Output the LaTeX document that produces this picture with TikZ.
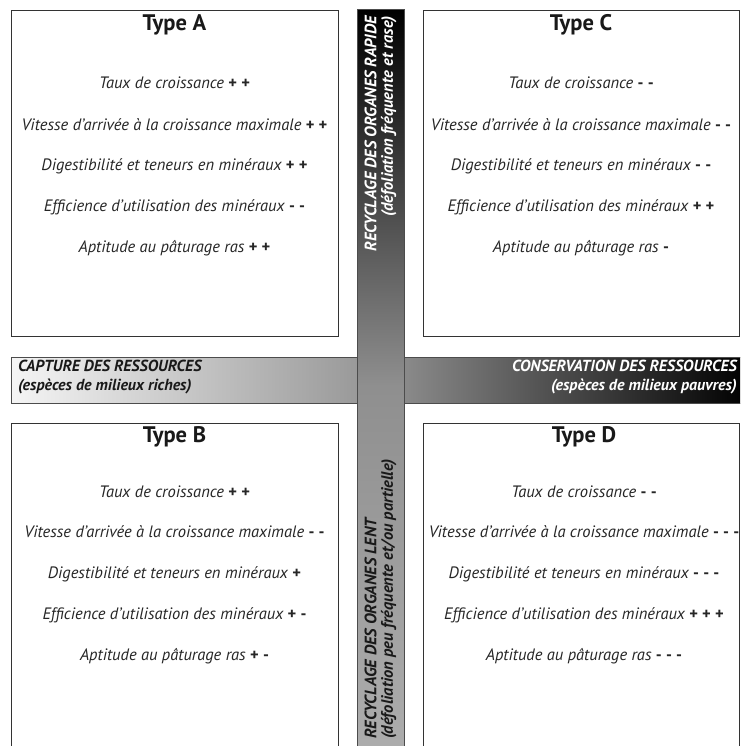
\documentclass[tikz,border=0pt]{standalone}
\usepackage{fontspec}
\setmainfont{PT Sans}
\usetikzlibrary{positioning}

\tikzset{
  typebox/.style={draw=black!80, line width=1.3pt, fill=white, anchor=north west, inner sep=0pt},
  title/.style={text=black!90, font=\bfseries\fontsize{22.5}{26}\selectfont, inner sep=0pt},
  item/.style={text=black!85, font=\itshape\fontsize{16.5}{19}\selectfont, inner sep=0pt},
  hbar/.style={draw=black!70, line width=1.3pt, anchor=north west, inner sep=0pt,
    left color=black!4, right color=black, middle color=black!42},
  vbar/.style={draw=black!70, line width=1.3pt, anchor=north west, inner sep=0pt,
    top color=black, bottom color=black!32, middle color=black!44},
  barlabel/.style={font=\bfseries\itshape\fontsize{16}{19}\selectfont, inner sep=0pt},
  vlabel/.style={font=\bfseries\itshape\fontsize{16.5}{16.5}\selectfont, inner sep=0pt, rotate=90},
}

\begin{document}
\begin{tikzpicture}[x=1pt,y=-1pt]
\useasboundingbox (0,0) rectangle (740,746);
\clip (0,0) rectangle (740,746);
% the four boxes
\node[typebox, minimum width=327pt, minimum height=326pt] (boxA) at (11,10) {};
\node[typebox, minimum width=316pt, minimum height=326pt] (boxC) at (423,10) {};
\node[typebox, minimum width=327pt, minimum height=340pt] (boxB) at (11,423) {};
\node[typebox, minimum width=316pt, minimum height=340pt] (boxD) at (423,423) {};
% the two axes
\node[hbar, minimum width=736pt, minimum height=46pt] (ressources) at (11,357) {};
\node[vbar, minimum width=47pt, minimum height=752pt] (recyclage) at (357,9) {};
\node[barlabel, text=black!90, anchor=west, align=left] (capture) at (18,377)
  {CAPTURE DES RESSOURCES\\(espèces de milieux riches)};
\node[barlabel, text=white, anchor=east, align=right] (conservation) at (737,377)
  {CONSERVATION DES RESSOURCES\\(espèces de milieux pauvres)};
\node[vlabel, text=white, anchor=east, align=right] (rapide) at (380.5,16)
  {RECYCLAGE DES ORGANES RAPIDE\\(défoliation fréquente et rase)};
\node[vlabel, text=black!90, anchor=west, align=left] (lent) at (380.5,739)
  {RECYCLAGE DES ORGANES LENT\\(défoliation peu fréquente et/ou partielle)};
% Type A
\node[title] (titleA) at (174.5,25) {Type A};
\node[item] (a1) at (174.5,83) {Taux de croissance \textbf{\upshape + +}};
\node[item] (a2) at (174.5,125) {Vitesse d'arrivée à la croissance maximale \textbf{\upshape + +}};
\node[item] (a3) at (174.5,166) {Digestibilité et teneurs en minéraux \textbf{\upshape + +}};
\node[item] (a4) at (174.5,207) {Efficience d'utilisation des minéraux \textbf{\upshape - -}};
\node[item] (a5) at (174.5,248) {Aptitude au pâturage ras \textbf{\upshape + +}};
% Type C
\node[title] (titleC) at (581,25) {Type C};
\node[item] (c1) at (581,83) {Taux de croissance \textbf{\upshape - -}};
\node[item] (c2) at (581,125) {Vitesse d'arrivée à la croissance maximale \textbf{\upshape - -}};
\node[item] (c3) at (581,166) {Digestibilité et teneurs en minéraux \textbf{\upshape - -}};
\node[item] (c4) at (581,207) {Efficience d'utilisation des minéraux \textbf{\upshape + +}};
\node[item] (c5) at (581,248) {Aptitude au pâturage ras \textbf{\upshape -}};
% Type B
\node[title] (titleB) at (174.5,437) {Type B};
\node[item] (b1) at (174.5,492) {Taux de croissance \textbf{\upshape + +}};
\node[item] (b2) at (174.5,532) {Vitesse d'arrivée à la croissance maximale \textbf{\upshape - -}};
\node[item] (b3) at (174.5,574) {Digestibilité et teneurs en minéraux \textbf{\upshape +}};
\node[item] (b4) at (174.5,615) {Efficience d'utilisation des minéraux \textbf{\upshape + -}};
\node[item] (b5) at (174.5,656) {Aptitude au pâturage ras \textbf{\upshape + -}};
% Type D
\node[title] (titleD) at (584,437) {Type D};
\node[item] (d1) at (584,492) {Taux de croissance \textbf{\upshape - -}};
\node[item] (d2) at (584,532) {Vitesse d'arrivée à la croissance maximale \textbf{\upshape - - -}};
\node[item] (d3) at (584,574) {Digestibilité et teneurs en minéraux \textbf{\upshape - - -}};
\node[item] (d4) at (584,615) {Efficience d'utilisation des minéraux \textbf{\upshape + + +}};
\node[item] (d5) at (584,656) {Aptitude au pâturage ras \textbf{\upshape - - -}};
\end{tikzpicture}
\end{document}
